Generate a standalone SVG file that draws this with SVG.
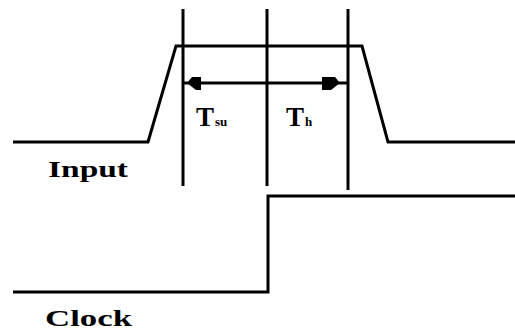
<svg xmlns="http://www.w3.org/2000/svg" width="515" height="333" viewBox="0 0 515 333">
<style>
.w{fill:none;stroke:#000;stroke-width:3;stroke-linejoin:miter}
.ah{fill:#000;stroke:none}
.t{font-family:"Liberation Serif",serif;font-weight:bold;fill:#000}
</style>
<rect width="515" height="333" fill="#fff"/>
<g id="connectors">
<path id="input" class="w" d="M13,142 H148 L176,46 H362 L388,142 H515"/>
<path id="clock" class="w" d="M13,292 H268 V196 H515"/>
<line class="w" x1="183" y1="9" x2="183" y2="186"/>
<line class="w" x1="267" y1="9" x2="267" y2="186"/>
<line class="w" x1="348" y1="9" x2="348" y2="190"/>
<line class="w" x1="183" y1="83" x2="348" y2="83"/>
<path class="ah" d="M187,83 L192,77 H201 V90 H196 Z"/>
<path class="ah" d="M340,83 L335,77 H322 V90 H331 Z"/>
</g>
<g id="tsu"><text class="t" x="196" y="126" font-size="27">T<tspan font-size="13" dx="1">su</tspan></text></g>
<g id="th"><text class="t" x="286" y="126" font-size="27">T<tspan font-size="13" dx="1">h</tspan></text></g>
<g id="input-label"><text class="t" x="48" y="177" font-size="24" textLength="80" lengthAdjust="spacingAndGlyphs">Input</text></g>
<g id="clock-label"><text class="t" x="45" y="326" font-size="24" textLength="87" lengthAdjust="spacingAndGlyphs">Clock</text></g>
</svg>
